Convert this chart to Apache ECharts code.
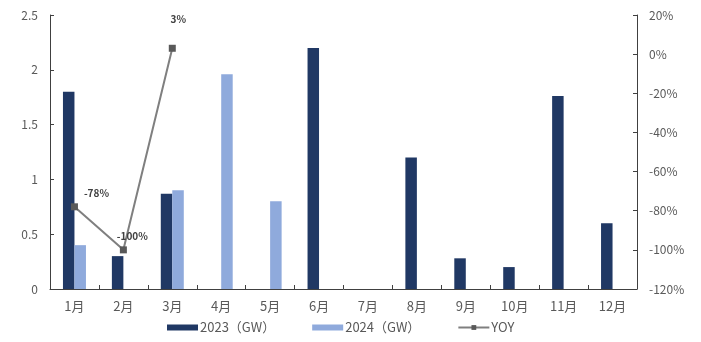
<!DOCTYPE html>
<html>
<head>
<meta charset="utf-8">
<style>
  html, body { margin: 0; padding: 0; background: #fff; }
  #chart { width: 701px; height: 342px; }
</style>
<script src="https://cdn.jsdelivr.net/npm/echarts@6/dist/echarts.min.js"></script>
</head>
<body>
<div id="chart"></div>
<script>
// Monthly installations (GW) and year-on-year change
const months = ['1月', '2月', '3月', '4月', '5月', '6月', '7月', '8月', '9月', '10月', '11月', '12月'];
const gw2023 = [1.8, 0.3, 0.87, null, null, 2.2, null, 1.2, 0.28, 0.2, 1.76, 0.6];
const gw2024 = [0.4, null, 0.9, 1.96, 0.8, null, null, null, null, null, null, null];
const yoy = [-78, -100, 3, null, null, null, null, null, null, null, null, null];
const leftTicks = { min: 0, max: 2.5, interval: 0.5 };
const rightTicks = { min: -120, max: 20, interval: 20 };

const textColor = '#595959';
const axisColor = '#404040';
const fontFamily = '"Noto Sans CJK SC", "Noto Sans", sans-serif';

// label placement for each YOY point (index -> offset)
const yoyLabelOffsets = { 0: [22, 0], 1: [9, 0], 2: [6, -16] };

const yoyData = yoy.map((v, i) => {
  if (v === null) return null;
  return {
    value: v,
    label: {
      show: true,
      position: 'top',
      offset: yoyLabelOffsets[i] || [0, 0],
      formatter: (p) => p.value + '%',
      color: '#404040',
      fontSize: 10,
      fontWeight: 'bold',
      fontFamily: fontFamily
    }
  };
});

const chart = echarts.init(document.getElementById('chart'), null, { renderer: 'canvas' });
chart.setOption({
  animation: false,
  backgroundColor: '#ffffff',
  textStyle: { fontFamily: fontFamily },
  grid: { left: 50, right: 64, top: 15, bottom: 53, containLabel: false },
  legend: {
    bottom: 3,
    left: 162,
    itemGap: 37,
    itemWidth: 31,
    itemHeight: 6,
    textStyle: { color: textColor, fontSize: 13, fontFamily: fontFamily, padding: [0, 0, 0, -3] },
    data: [
      { name: '2023（GW）', icon: 'rect' },
      { name: '2024（GW）', icon: 'rect' },
      { name: 'YOY' }
    ]
  },
  xAxis: {
    type: 'category',
    data: months,
    boundaryGap: true,
    axisLine: { lineStyle: { color: axisColor, width: 1 } },
    axisTick: { show: true, inside: true, length: 4, alignWithLabel: false, lineStyle: { color: axisColor } },
    axisLabel: { color: textColor, fontSize: 13, margin: 11, fontFamily: fontFamily },
    splitLine: { show: false }
  },
  yAxis: [
    {
      type: 'value',
      min: leftTicks.min,
      max: leftTicks.max,
      interval: leftTicks.interval,
      axisLine: { show: true, lineStyle: { color: axisColor, width: 1 } },
      axisTick: { show: true, inside: true, length: 4, lineStyle: { color: axisColor } },
      axisLabel: { color: textColor, fontSize: 12, margin: 12, fontFamily: fontFamily },
      splitLine: { show: false }
    },
    {
      type: 'value',
      position: 'right',
      min: rightTicks.min,
      max: rightTicks.max,
      interval: rightTicks.interval,
      axisLine: { show: true, lineStyle: { color: axisColor, width: 1 } },
      axisTick: { show: true, inside: true, length: 4, lineStyle: { color: axisColor } },
      axisLabel: { color: textColor, fontSize: 12, margin: 12, formatter: '{value}%', fontFamily: fontFamily },
      splitLine: { show: false }
    }
  ],
  series: [
    {
      name: '2023（GW）',
      type: 'bar',
      data: gw2023,
      barWidth: 11.5,
      barGap: '0%',
      itemStyle: { color: '#203864' }
    },
    {
      name: '2024（GW）',
      type: 'bar',
      data: gw2024,
      barWidth: 11.5,
      barGap: '0%',
      itemStyle: { color: '#8FAADC' }
    },
    {
      name: 'YOY',
      type: 'line',
      yAxisIndex: 1,
      data: yoyData,
      connectNulls: false,
      symbol: 'rect',
      symbolSize: 7,
      lineStyle: { color: '#7F7F7F', width: 2 },
      itemStyle: { color: '#595959' },
      z: 5
    }
  ]
});
</script>
</body>
</html>
